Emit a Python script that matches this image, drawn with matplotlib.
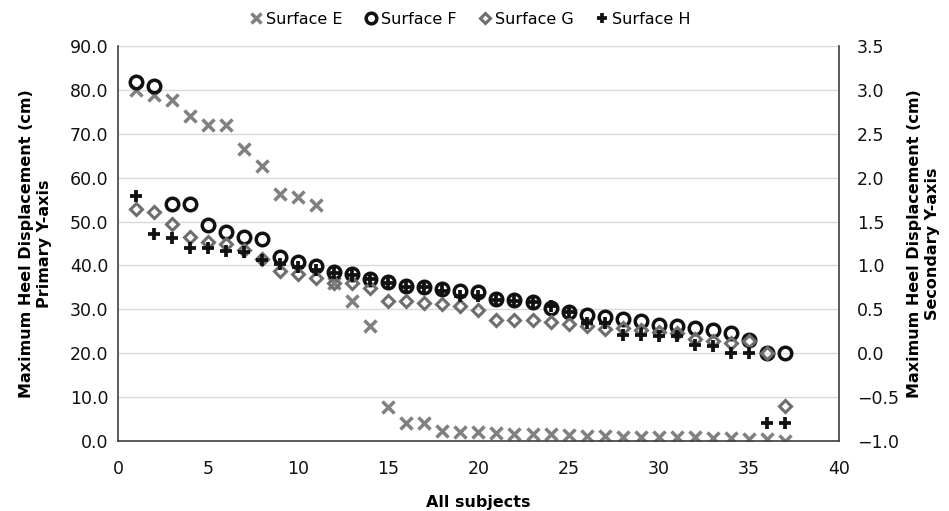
import numpy as np
import matplotlib
matplotlib.use('Agg')
import matplotlib.pyplot as plt
from matplotlib.ticker import FuncFormatter, MultipleLocator

# subjects 1..37, sorted per surface
subjects = np.arange(1, 38)

# primary axis (cm)
surface_e = [80.0, 78.8, 77.8, 74.0, 72.0, 72.0, 66.6, 62.7, 56.2, 55.5,
             53.7, 35.9, 32.0, 26.3, 7.7, 4.2, 4.0, 2.3, 2.1, 2.0,
             1.9, 1.6, 1.5, 1.5, 1.4, 1.2, 1.1, 1.0, 1.0, 0.9,
             0.9, 0.8, 0.7, 0.6, 0.5, 0.4, 0.1]
surface_f = [81.7, 80.8, 54.0, 53.9, 49.3, 47.6, 46.5, 46.1, 42.0, 40.8,
             39.8, 38.4, 38.1, 36.9, 36.3, 35.4, 35.2, 34.7, 34.2, 34.0,
             32.3, 32.1, 31.7, 30.4, 29.4, 28.6, 28.2, 27.7, 27.3, 26.4,
             26.2, 25.8, 25.4, 24.6, 23.0, 20.1, 20.1]
surface_g = [52.9, 52.2, 49.5, 46.5, 45.3, 44.8, 43.5, 41.5, 38.8, 38.0,
             37.2, 36.0, 36.0, 34.8, 31.9, 31.8, 31.4, 31.1, 30.8, 29.8,
             27.5, 27.5, 27.5, 27.0, 26.6, 26.2, 25.6, 25.8, 25.3, 24.8,
             24.5, 23.2, 22.8, 22.4, 22.8, 20.0, 8.0]
# secondary axis (cm)
surface_h = [1.79, 1.36, 1.31, 1.20, 1.20, 1.16, 1.15, 1.06, 1.02, 0.98,
             0.95, 0.91, 0.89, 0.84, 0.80, 0.76, 0.75, 0.71, 0.65, 0.65,
             0.61, 0.60, 0.58, 0.54, 0.47, 0.34, 0.34, 0.21, 0.21, 0.20,
             0.20, 0.09, 0.08, 0.00, 0.00, -0.80, -0.80]

fig = plt.figure(figsize=(9.49, 5.11), dpi=100)
ax = fig.add_axes([0.1243, 0.137, 0.7597, 0.773])
ax2 = ax.twinx()

ax.plot(subjects, surface_e, linestyle='none', marker='x', ms=8.5, mew=2.5,
        color='#808080', label='Surface E')
ax.plot(subjects, surface_f, linestyle='none', marker='o', ms=9, mew=2.5,
        mfc='none', mec='#111111', label='Surface F')
ax.plot(subjects, surface_g, linestyle='none', marker='D', ms=6.2, mew=2.2,
        mfc='none', mec='#6e6e6e', label='Surface G')
ax2.plot(subjects, surface_h, linestyle='none', marker='+', ms=9.2, mew=2.7,
         color='#111111', label='Surface H')

ax.set_xlim(0, 40)
ax.set_ylim(0, 90)
ax2.set_ylim(-1, 3.5)
ax.xaxis.set_major_locator(MultipleLocator(5))
ax.yaxis.set_major_locator(MultipleLocator(10))
ax2.yaxis.set_major_locator(MultipleLocator(0.5))
fmt = FuncFormatter(lambda v, p: f'{v:.1f}'.replace('-', '\u2212'))
ax.yaxis.set_major_formatter(fmt)
ax2.yaxis.set_major_formatter(fmt)

ax.yaxis.grid(True, color='#d9d9d9', lw=1.0)
ax.set_axisbelow(True)

for a in (ax, ax2):
    a.spines['top'].set_visible(False)
    for s in ('left', 'right', 'bottom'):
        a.spines[s].set_color('#404040')
        a.spines[s].set_linewidth(1.2)
ax.spines['right'].set_visible(False)
ax2.spines['left'].set_visible(False)
ax2.spines['bottom'].set_visible(False)

ax.tick_params(axis='y', length=0, pad=7, labelsize=12.5, colors='#111111')
ax.tick_params(axis='x', length=0, pad=14, labelsize=12.5, colors='#111111')
ax2.tick_params(axis='y', length=0, pad=13, labelsize=12.5, colors='#111111')

ax.set_xlabel('All subjects', fontsize=11.5, fontweight='bold', labelpad=12)
ax.set_ylabel('Maximum Heel Displacement (cm)\nPrimary Y-axis',
              fontsize=11.5, fontweight='bold', labelpad=13, linespacing=1.25)
ax2.set_ylabel('Maximum Heel Displacement (cm)\nSecondary Y-axis',
               fontsize=11.5, fontweight='bold', labelpad=6, linespacing=1.25,
               rotation=90)

h1, l1 = ax.get_legend_handles_labels()
h2, l2 = ax2.get_legend_handles_labels()
fig.legend(h1 + h2, l1 + l2, loc='upper center', bbox_to_anchor=(0.495, 1.005),
           ncol=4, frameon=False, fontsize=11.5, handlelength=0.9,
           handletextpad=0.2, columnspacing=1.3, markerscale=0.85)

fig.savefig('out.png', dpi=100)
